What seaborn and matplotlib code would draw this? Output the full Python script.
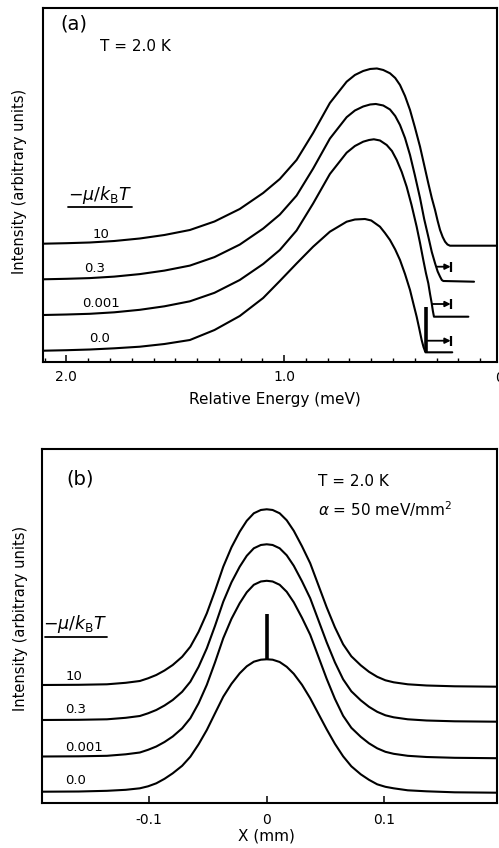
import matplotlib
matplotlib.use("Agg")
import matplotlib.pyplot as plt
from matplotlib.ticker import MultipleLocator, FixedLocator
import seaborn as sns
import pandas as pd

# ---------------- data: panel (a) ----------------
mu_labels = ["10", "0.3", "0.001", "0.0"]

a_E_10 = [2.1075, 2.0, 1.893, 1.78, 1.663, 1.55, 1.433, 1.32, 1.204, 1.0965, 1.02, 0.943,
          0.867, 0.790, 0.713, 0.675, 0.637, 0.605, 0.574, 0.545, 0.514, 0.49, 0.468,
          0.445, 0.422, 0.40, 0.376, 0.357, 0.338, 0.322, 0.307, 0.295, 0.284, 0.272,
          0.261, 0.25, 0.2385, 0.0225]
a_I_10 = [118.3, 118.8, 119.5, 121, 123.5, 127, 132, 140.5, 153, 169, 183, 202,
          229, 259, 280.3, 287, 291, 293, 293.5, 292, 288.7, 284, 277,
          266, 252, 235, 215.3, 197, 178.7, 164, 152, 141, 132, 125,
          120.3, 117.5, 116.3, 116.3]

a_E_03 = [2.1075, 2.0, 1.893, 1.78, 1.663, 1.55, 1.433, 1.32, 1.204, 1.0965, 1.02, 0.943,
          0.867, 0.790, 0.713, 0.675, 0.637, 0.605, 0.579, 0.545, 0.514, 0.49, 0.468,
          0.445, 0.422, 0.40, 0.376, 0.357, 0.338, 0.322, 0.307, 0.295, 0.284, 0.276,
          0.269, 0.128]
a_I_03 = [82.7, 83.2, 83.9, 85.4, 87.9, 91.4, 96.4, 104.9, 117.4, 133.4, 147.4, 166.4,
          193.4, 223.4, 244.8, 251.5, 255.5, 257.5, 258, 256.5, 252.5, 246, 237,
          224, 207, 187, 164, 143, 125.3, 110, 98.7, 90.5, 85.3, 82,
          81, 80.3]

a_E_0001 = [2.1075, 2.0, 1.893, 1.78, 1.663, 1.55, 1.433, 1.32, 1.204, 1.0965, 1.02, 0.943,
            0.867, 0.790, 0.713, 0.675, 0.637, 0.61, 0.588, 0.56, 0.529, 0.505, 0.483,
            0.46, 0.4375, 0.415, 0.3915, 0.376, 0.361, 0.349, 0.338, 0.33, 0.3226, 0.317,
            0.312, 0.154]
a_I_0001 = [47, 47.5, 48.2, 49.7, 52.2, 55.7, 60.7, 69.2, 82, 98, 112, 131.5,
            158.5, 188, 209.3, 216, 220.3, 222, 222.7, 221.5, 217, 211, 202,
            190, 175.3, 157, 135.3, 119, 102, 89, 78.7, 68, 59, 51,
            45.3, 45.3]

a_E_00 = [2.1075, 2.0, 1.893, 1.78, 1.663, 1.55, 1.433, 1.32, 1.204, 1.0965, 1.02, 0.943,
          0.867, 0.790, 0.713, 0.675, 0.629, 0.60, 0.560, 0.537, 0.514, 0.49, 0.468,
          0.445, 0.422, 0.405, 0.3915, 0.38, 0.3686, 0.36, 0.351, 0.228]
a_I_00 = [11.3, 11.8, 12.5, 13.7, 15.3, 18, 22, 32, 46, 64, 81, 98.5,
          115.3, 130.3, 140.3, 142.5, 143, 141.5, 135.3, 129, 122, 112.5, 102,
          88, 72, 57, 45.3, 33.8, 22, 15, 9.7, 9.7]

# arrows  (->|) in panel (a)
arrow_levels = [95.3, 58.0, 21.3]
arrow_start = [0.2997, 0.3212, 0.3410]
arrow_end = [0.2353, 0.2353, 0.2353]

# thick bar in panel (a)
a_bar_E = 0.349
a_bar_I = [10, 55]

# ---------------- data: panel (b) ----------------
b_X = [-0.1915, -0.16, -0.136, -0.12, -0.108, -0.101, -0.094, -0.087, -0.08, -0.072,
       -0.065, -0.058, -0.051, -0.044, -0.037, -0.03, -0.023, -0.017, -0.011, -0.005,
       0.0,
       0.005, 0.011, 0.017, 0.023, 0.03, 0.037, 0.044, 0.051, 0.058, 0.065,
       0.072, 0.08, 0.087, 0.094, 0.101, 0.108, 0.12, 0.136, 0.16, 0.1957]
b_I_10 = [118.3, 118.5, 119, 120.5, 122.3, 125, 128.3, 132.8, 138.3, 146.5,
          156.6, 171.5, 190, 212.5, 236.6, 256, 271.6, 282.5, 290, 293.3,
          294,
          293.3, 290, 283, 272.5, 257, 240, 218, 196, 176, 159,
          147, 138, 131.5, 126.5, 123, 121, 119, 117.8, 117, 116.6]
b_I_03 = [83.3, 83.5, 84, 85.5, 87.3, 90, 93.3, 97.8, 103.3, 111.5,
          121.6, 136.5, 155, 177.5, 201.6, 221, 236.6, 247.5, 255, 258.3,
          259,
          258.3, 255, 248, 237.5, 222, 205, 183, 161, 141, 124,
          112, 103, 96.5, 91.5, 88, 86, 84, 82.8, 82, 81.6]
b_I_0001 = [46.8, 47, 47.5, 49, 50.8, 53.5, 56.8, 61.3, 66.8, 75,
            85.1, 100, 118.5, 141, 165.1, 184.5, 200.1, 211, 218.5, 221.8,
            222.5,
            221.8, 218.5, 211.5, 201, 185.5, 168.5, 146.5, 124.5, 104.5, 87.5,
            75.5, 66.5, 60, 55, 51.5, 49.5, 47.5, 46.3, 45.5, 45.1]
b_I_00 = [11.6, 11.8, 12.5, 13.5, 15, 17, 20, 24.5, 30, 37.5,
          46.6, 59, 73.3, 90, 106.6, 119.5, 130, 137, 141.6, 143.6,
          144,
          143.6, 141.3, 136.5, 129.5, 118.5, 105, 89.5, 74, 59.5, 47,
          37, 29, 23.5, 19, 16.5, 15, 13, 12, 11, 10.6]

b_bar_X = 0.0
b_bar_I = [144, 189]

a_xticks = [2.0, 1.0]
a_xticklabels = ["2.0", "1.0"]
b_xticks = [-0.1, 0.0, 0.1]
b_xticklabels = ["-0.1", "0", "0.1"]

# ---------------- style ----------------
sns.set_style("ticks")
plt.rcParams["font.family"] = ["DejaVu Sans"]
plt.rcParams["mathtext.fontset"] = "dejavusans"
plt.rcParams["text.color"] = "black"
plt.rcParams["axes.labelcolor"] = "black"
plt.rcParams["xtick.color"] = "black"
plt.rcParams["xtick.labelcolor"] = "black"

fig = plt.figure(figsize=(4.99, 8.48), dpi=100)
ax1 = fig.add_axes([0.0862, 0.5731, 0.9098, 0.4175])
ax2 = fig.add_axes([0.0836, 0.0527, 0.9118, 0.4175])

LW = 1.5

# panel (a) curves
a_curves = [(a_E_10, a_I_10), (a_E_03, a_I_03), (a_E_0001, a_I_0001), (a_E_00, a_I_00)]
for lab, (E, I) in zip(mu_labels, a_curves):
    df = pd.DataFrame({"E": E, "I": I})
    sns.lineplot(data=df, x="E", y="I", ax=ax1, color="black", lw=LW,
                 estimator=None, sort=False)

for lev, s, e in zip(arrow_levels, arrow_start, arrow_end):
    ax1.annotate("", xy=(e, lev), xytext=(s, lev),
                 arrowprops=dict(arrowstyle="-|>", color="black", lw=1.3,
                                 mutation_scale=8, shrinkA=0, shrinkB=0))
    ax1.plot([e], [lev], marker="|", ms=7, mew=1.6, color="black")

ax1.plot([a_bar_E, a_bar_E], a_bar_I, color="black", lw=2.6, solid_capstyle="butt")

ax1.set_xlim(2.1075, 0.0225)
ax1.set_ylim(0, 354)

# panel (b) curves
b_curves = [b_I_10, b_I_03, b_I_0001, b_I_00]
for lab, I in zip(mu_labels, b_curves):
    df = pd.DataFrame({"X": b_X, "I": I})
    sns.lineplot(data=df, x="X", y="I", ax=ax2, color="black", lw=LW,
                 estimator=None, sort=False)
ax2.plot([b_bar_X, b_bar_X], b_bar_I, color="black", lw=2.6, solid_capstyle="butt")
ax2.set_xlim(-0.1915, 0.1957)
ax2.set_ylim(0, 354)

# ---------------- axes cosmetics ----------------
for ax in (ax1, ax2):
    for sp in ax.spines.values():
        sp.set_visible(True)
        sp.set_linewidth(1.5)
        sp.set_color("black")
    ax.set_yticks([])
    ax.tick_params(axis="x", which="both", direction="in", top=False, bottom=True,
                   color="black", labelcolor="black")
    ax.set_xlabel("")
    ax.set_ylabel("")

ax1.xaxis.set_major_locator(FixedLocator(a_xticks))
ax1.set_xticklabels(a_xticklabels)
ax1.xaxis.set_minor_locator(MultipleLocator(0.1))
ax1.tick_params(axis="x", which="major", length=5, width=1.1, pad=5.5, labelsize=10)
ax1.tick_params(axis="x", which="minor", length=3, width=1.0)
ax1.text(0.009, -0.024, "0", transform=ax1.get_xaxis_transform(), ha="center", va="top",
         fontsize=10, clip_on=False, color="black")

ax2.xaxis.set_major_locator(FixedLocator(b_xticks))
ax2.set_xticklabels(b_xticklabels)
ax2.tick_params(axis="x", which="major", length=5, width=1.1, pad=7, labelsize=10)

ax1.set_xlabel("Relative Energy (meV)", fontsize=11)
ax1.xaxis.set_label_coords(0.511, -0.085)
ax1.set_ylabel("Intensity (arbitrary units)", fontsize=10.5)
ax1.yaxis.set_label_coords(-0.036, 0.51)

ax2.set_xlabel("X (mm)", fontsize=11)
ax2.xaxis.set_label_coords(0.4945, -0.072)
ax2.set_ylabel("Intensity (arbitrary units)", fontsize=10.5)
ax2.yaxis.set_label_coords(-0.031, 0.523)

# ---------------- annotations ----------------
ax1.text(0.068, 0.955, "(a)", transform=ax1.transAxes, ha="center", va="center", fontsize=14)
ax1.text(0.1256, 0.891, "T = 2.0 K", transform=ax1.transAxes, ha="left", va="center", fontsize=11)
ax1.text(0.1256, 0.472, r"$-\mu/k_{\mathrm{B}}T$", transform=ax1.transAxes,
         ha="center", va="center", fontsize=12.5)
ax1.plot([0.055, 0.196], [0.438, 0.438], transform=ax1.transAxes, color="black", lw=1.3)
a_label_pos = [(0.1267, 0.3588), (0.1134, 0.264), (0.1278, 0.165), (0.1244, 0.0678)]
for lab, (x, y) in zip(mu_labels, a_label_pos):
    ax1.text(x, y, lab, transform=ax1.transAxes, ha="center", va="center", fontsize=9.5)

ax2.text(0.0853, 0.916, "(b)", transform=ax2.transAxes, ha="center", va="center", fontsize=14)
ax2.text(0.607, 0.910, "T = 2.0 K", transform=ax2.transAxes, ha="left", va="center", fontsize=11)
ax2.text(0.607, 0.830, r"$\alpha$ = 50 meV/mm$^{2}$", transform=ax2.transAxes,
         ha="left", va="center", fontsize=11)
ax2.text(0.0732, 0.507, r"$-\mu/k_{\mathrm{B}}T$", transform=ax2.transAxes,
         ha="center", va="center", fontsize=12.5)
ax2.plot([0.007, 0.1435], [0.470, 0.470], transform=ax2.transAxes, color="black", lw=1.3)
b_label_pos = [(0.072, 0.357), (0.0754, 0.2636), (0.0919, 0.159), (0.0754, 0.0658)]
for lab, (x, y) in zip(mu_labels, b_label_pos):
    ax2.text(x, y, lab, transform=ax2.transAxes, ha="center", va="center", fontsize=9.5)

fig.savefig("out.png", dpi=100, facecolor="white")
